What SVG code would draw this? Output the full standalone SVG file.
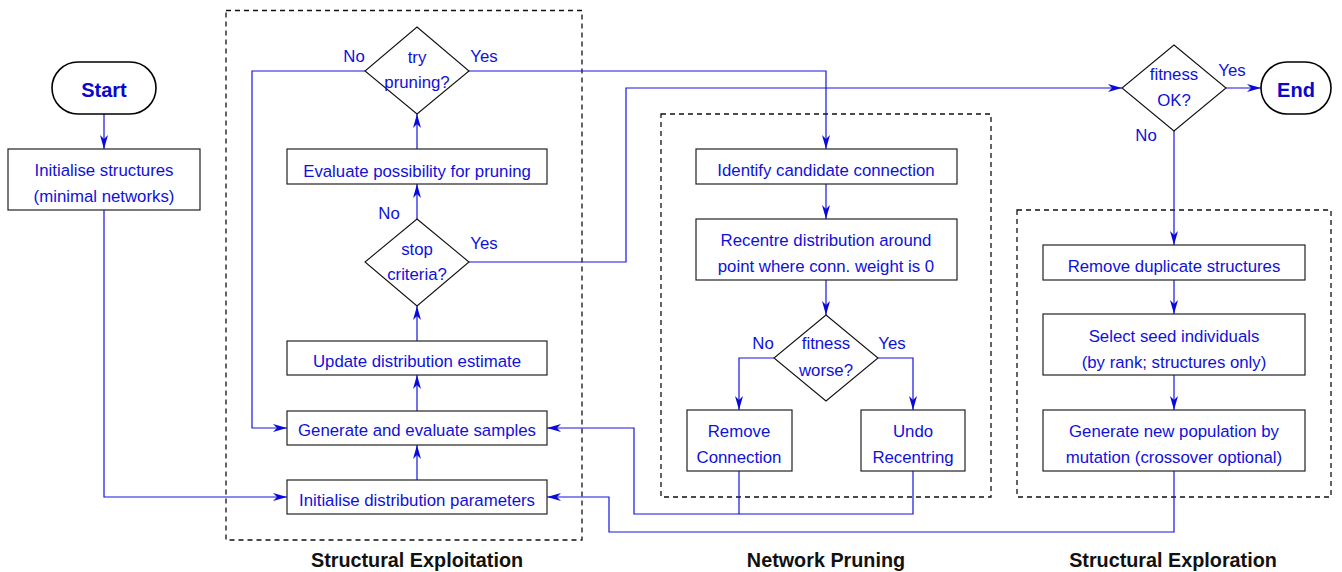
<svg xmlns="http://www.w3.org/2000/svg" width="1342" height="572" viewBox="0 0 1342 572">
<style>
.box{fill:#fff;stroke:#222;stroke-width:1.2}
.pill{fill:#fff;stroke:#000;stroke-width:1.6}
.dia{fill:#fff;stroke:#111;stroke-width:1.1}
.grp{fill:none;stroke:#111;stroke-width:1.3;stroke-dasharray:5,4}
.t{font-family:"Liberation Sans",Arial,sans-serif;font-size:16.8px;fill:#1010dd;text-anchor:middle}
.tb{font-family:"Liberation Sans",Arial,sans-serif;font-size:20px;font-weight:bold;fill:#0808cc;text-anchor:middle}
.lab{font-family:"Liberation Sans",Arial,sans-serif;font-size:19.8px;font-weight:bold;fill:#111;text-anchor:middle}
.c{fill:none;stroke:#1414e0;stroke-width:1.2}
.ca{fill:none;stroke:#1414e0;stroke-width:1.2;marker-end:url(#ah)}
</style>
<defs>
<marker id="ah" markerUnits="userSpaceOnUse" viewBox="0 0 14 8" markerWidth="14" markerHeight="8" refX="14" refY="4" orient="auto">
<path d="M0,0 L14,4 L0,8 L4,4 z" fill="#0a0ad8"/>
</marker>
</defs>
<rect width="1342" height="572" fill="#fff"/>
<g id="groups">
<rect class="grp" x="226" y="10.5" width="356" height="529.5"/>
<rect class="grp" x="661" y="114" width="330" height="383"/>
<rect class="grp" x="1017" y="210" width="314" height="287"/>
<text class="lab" x="417" y="567">Structural Exploitation</text>
<text class="lab" x="826" y="567">Network Pruning</text>
<text class="lab" x="1173" y="567">Structural Exploration</text>
</g>
<g id="connectors">
<path class="ca" d="M104,114 V149"/>
<path class="ca" d="M104,210 V497 H287"/>
<path class="ca" d="M417,480 V445"/>
<path class="ca" d="M417,411 V375"/>
<path class="ca" d="M417,341 V306"/>
<path class="ca" d="M417,219 V184"/>
<path class="ca" d="M417,149 V114"/>
<path class="ca" d="M365,71 H252 V428 H287"/>
<path class="ca" d="M469,71 H826 V149"/>
<path class="ca" d="M469,262 H626 V88 H1122"/>
<path class="ca" d="M826,184 V219"/>
<path class="ca" d="M826,280 V315"/>
<path class="ca" d="M774,358 H739 V410"/>
<path class="ca" d="M878,358 H913 V410"/>
<path class="ca" d="M739,471 V514 H634 V428 H547"/>
<path class="c" d="M913,471 V514 H739"/>
<path class="ca" d="M1226,88 H1261"/>
<path class="ca" d="M1174,131 V245"/>
<path class="ca" d="M1174,280 V314"/>
<path class="ca" d="M1174,375 V410"/>
<path class="ca" d="M1174,471 V532 H609 V497 H547"/>
<text class="t" x="354" y="62">No</text>
<text class="t" x="484" y="62">Yes</text>
<text class="t" x="389" y="219">No</text>
<text class="t" x="484" y="249">Yes</text>
<text class="t" x="763" y="349">No</text>
<text class="t" x="892" y="349">Yes</text>
<text class="t" x="1232" y="76">Yes</text>
<text class="t" x="1146" y="141">No</text>
</g>
<g id="start">
<rect class="pill" x="52" y="62" width="104" height="52" rx="26"/>
<text class="tb" x="104" y="97">Start</text>
</g>
<g id="init-structures">
<rect class="box" x="8" y="149" width="192" height="61"/>
<text class="t" x="104" y="176">Initialise structures</text>
<text class="t" x="104" y="202">(minimal networks)</text>
</g>
<g id="try-pruning">
<polygon class="dia" points="417,27 469,71 417,114 365,71"/>
<text class="t" x="417" y="63">try</text>
<text class="t" x="417" y="88">pruning?</text>
</g>
<g id="evaluate-pruning">
<rect class="box" x="287" y="149" width="260" height="35"/>
<text class="t" x="417" y="177">Evaluate possibility for pruning</text>
</g>
<g id="stop-criteria">
<polygon class="dia" points="417,219 469,262 417,306 365,262"/>
<text class="t" x="417" y="255">stop</text>
<text class="t" x="417" y="280">criteria?</text>
</g>
<g id="update-distribution">
<rect class="box" x="287" y="341" width="260" height="34"/>
<text class="t" x="417" y="367">Update distribution estimate</text>
</g>
<g id="generate-samples">
<rect class="box" x="287" y="411" width="260" height="34"/>
<text class="t" x="417" y="436">Generate and evaluate samples</text>
</g>
<g id="init-distribution">
<rect class="box" x="287" y="480" width="260" height="34"/>
<text class="t" x="417" y="506">Initialise distribution parameters</text>
</g>
<g id="identify-connection">
<rect class="box" x="696" y="149" width="261" height="35"/>
<text class="t" x="826" y="176">Identify candidate connection</text>
</g>
<g id="recentre">
<rect class="box" x="696" y="219" width="261" height="61"/>
<text class="t" x="826" y="246">Recentre distribution around</text>
<text class="t" x="826" y="272">point where conn. weight is 0</text>
</g>
<g id="fitness-worse">
<polygon class="dia" points="826,315 878,358 826,401 774,358"/>
<text class="t" x="826" y="349">fitness</text>
<text class="t" x="826" y="376">worse?</text>
</g>
<g id="remove-connection">
<rect class="box" x="687" y="410" width="105" height="61"/>
<text class="t" x="739" y="437">Remove</text>
<text class="t" x="739" y="463">Connection</text>
</g>
<g id="undo-recentring">
<rect class="box" x="861" y="410" width="104" height="61"/>
<text class="t" x="913" y="437">Undo</text>
<text class="t" x="913" y="463">Recentring</text>
</g>
<g id="fitness-ok">
<polygon class="dia" points="1174,45 1226,88 1174,131 1122,88"/>
<text class="t" x="1174" y="80">fitness</text>
<text class="t" x="1174" y="106">OK?</text>
</g>
<g id="end">
<rect class="pill" x="1261" y="62" width="70" height="52" rx="26"/>
<text class="tb" x="1296" y="97">End</text>
</g>
<g id="remove-duplicates">
<rect class="box" x="1043" y="245" width="262" height="35"/>
<text class="t" x="1174" y="272">Remove duplicate structures</text>
</g>
<g id="select-seed">
<rect class="box" x="1043" y="314" width="262" height="61"/>
<text class="t" x="1174" y="342">Select seed individuals</text>
<text class="t" x="1174" y="368">(by rank; structures only)</text>
</g>
<g id="generate-population">
<rect class="box" x="1043" y="410" width="262" height="61"/>
<text class="t" x="1174" y="437">Generate new population by</text>
<text class="t" x="1174" y="463">mutation (crossover optional)</text>
</g>
</svg>
